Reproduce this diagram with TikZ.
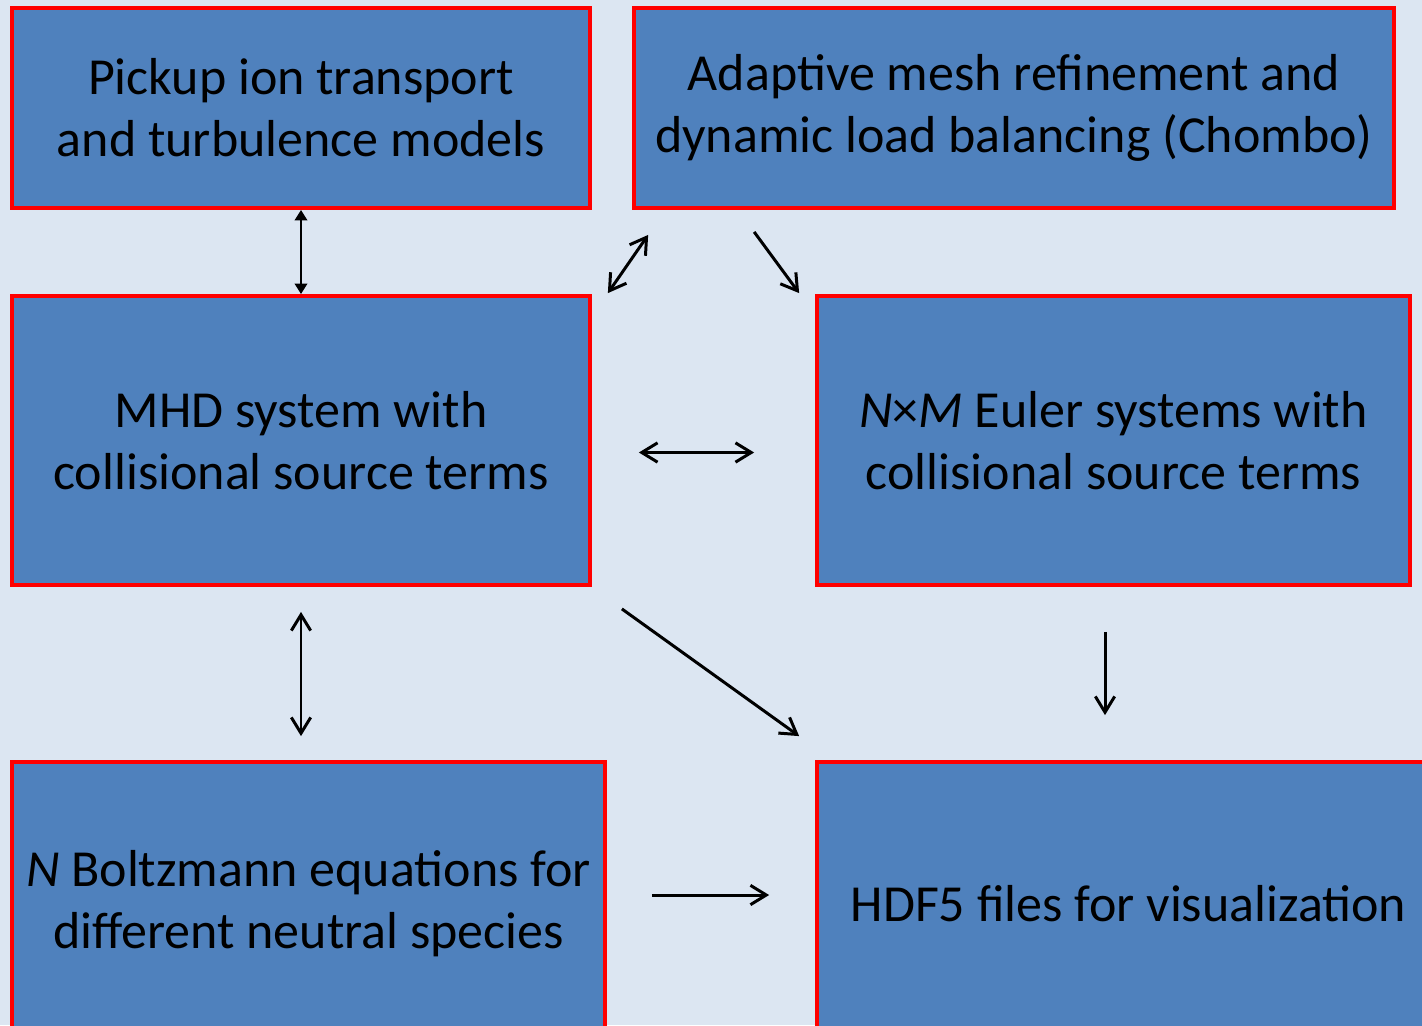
\documentclass[tikz,border=0pt]{standalone}
\usepackage{fontspec}
\setmainfont{Carlito}
\usetikzlibrary{arrows.meta, calc}
\definecolor{bgblue}{HTML}{DCE6F2}
\definecolor{boxblue}{HTML}{4F81BD}
\definecolor{boxred}{HTML}{FF0000}
\begin{document}
\begin{tikzpicture}[x=0.02cm, y=-0.02cm]

\tikzset{block/.style = {rectangle, draw=boxred, fill=boxblue, line width=2.2pt, align=center, inner sep=0pt, font=\fontsize{29.6}{35.3}\selectfont}}
\tikzset{link/.style = {line width=1.7pt, {Straight Barb[length=9pt,width=11pt]}-{Straight Barb[length=9pt,width=11pt]}}}
\tikzset{feed/.style = {line width=1.7pt, -{Straight Barb[length=9pt,width=11pt]}}}
\tikzset{solid link/.style = {line width=1.7pt, {Triangle[length=6pt,width=7pt]}-{Triangle[length=6pt,width=7pt]}}}

\fill[bgblue] (0,0) rectangle (1422,1025);
\useasboundingbox (0,0) rectangle (1422,1025);
\begin{scope}
\clip (0,0) rectangle (1422,1025);
%boxes
\node[block, minimum width=11.56cm, minimum height=4cm] (pickup) at (301,108) {Pickup ion transport\\and turbulence models};
\node[block, minimum width=15.2cm, minimum height=4cm] (amr) at (1014,108) {Adaptive mesh refinement and\\dynamic load balancing (Chombo)};
\node[block, minimum width=11.56cm, minimum height=5.78cm] (mhd) at (301,440.5) {MHD system with\\collisional source terms};
\node[block, minimum width=11.86cm, minimum height=5.78cm] (euler) at (1113.5,440.5) {\textit{N}×\textit{M} Euler systems with\\collisional source terms};
\node[block, minimum width=11.86cm, minimum height=5.66cm] (boltz) at (308.5,903.5) {\textit{N} Boltzmann equations for\\different neutral species};
\node[block, minimum width=12.46cm, minimum height=5.66cm] (hdf) at (1128.5,903.5) {HDF5 files for visualization};
\end{scope}
%arrows
\draw[solid link] (pickup.south) -- (mhd.north);
\draw[link] ($(amr.south west)+(16,25)$) -- ($(mhd.north east)+(16,-1)$);
\draw[feed] ($(amr.south west)+(122,22)$) -- ($(euler.north west)+(-16,-1)$);
\draw[link] ($(mhd.east)+(47,12)$) -- ($(euler.west)+(-61,12)$);
\draw[link] ($(mhd.south)+(0,25)$) -- ($(boltz.north)+(-7.5,-24)$);
\draw[feed] ($(mhd.south east)+(30,22)$) -- ($(hdf.north west)+(-16,-24)$);
\draw[feed] ($(euler.south)+(-8.5,45)$) -- ($(hdf.north)+(-23.5,-45)$);
\draw[feed] ($(boltz.east)+(45,-8.5)$) -- ($(hdf.west)+(-46,-8.5)$);

\end{tikzpicture}
\end{document}
